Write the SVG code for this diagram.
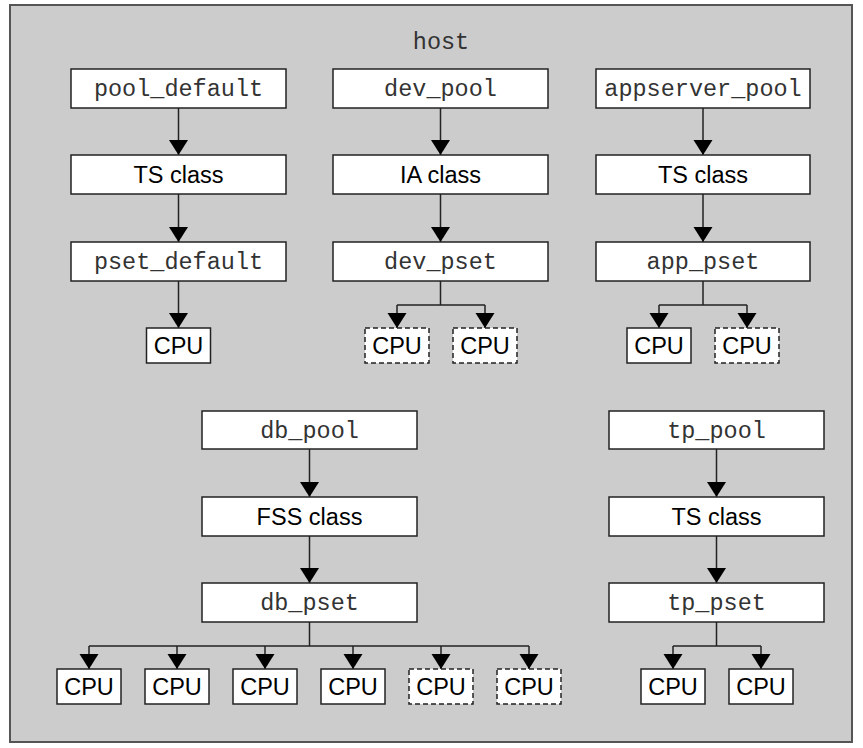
<svg xmlns="http://www.w3.org/2000/svg" width="863" height="748" viewBox="0 0 863 748">
<style>
.bg{fill:#cccccc;stroke:#555555;stroke-width:2}
.box{fill:#ffffff;stroke:#222222;stroke-width:1.5}
.dash{fill:#ffffff;stroke:#222222;stroke-width:1.5;stroke-dasharray:5 3}
.mono{font-family:"Liberation Mono","Courier New",monospace;font-size:23.5px;fill:#333333;text-anchor:middle}
.sans{font-family:"Liberation Sans",Arial,sans-serif;font-size:23.5px;fill:#000000;text-anchor:middle}
.cn{fill:none;stroke:#222222;stroke-width:1.5}
.arr{marker-end:url(#ah)}
</style>
<defs>
<marker id="ah" markerUnits="userSpaceOnUse" viewBox="0 -10 15 20" refX="15" refY="0" markerWidth="15" markerHeight="20" orient="auto">
<path d="M0,-9.5 L15,0 L0,9.5 z" fill="#000000"/>
</marker>
</defs>
<rect class="bg" x="10" y="5" width="842" height="737"/>
<text class="mono" x="441" y="49">host</text>

<g id="connectors">
<path class="cn arr" d="M178.5,108 V155"/>
<path class="cn arr" d="M178.5,194 V242"/>
<path class="cn arr" d="M178.5,281 V328"/>
<path class="cn arr" d="M440.5,108 V155"/>
<path class="cn arr" d="M440.5,194 V242"/>
<path class="cn" d="M440.5,281 V305 M397,305 H485"/>
<path class="cn arr" d="M397,305 V328"/>
<path class="cn arr" d="M485,305 V328"/>
<path class="cn arr" d="M703,108 V155"/>
<path class="cn arr" d="M703,194 V242"/>
<path class="cn" d="M703,281 V305 M659,305 H747"/>
<path class="cn arr" d="M659,305 V328"/>
<path class="cn arr" d="M747,305 V328"/>
<path class="cn arr" d="M309.5,449 V497"/>
<path class="cn arr" d="M309.5,536 V583"/>
<path class="cn" d="M309.5,622 V646 M89,646 H529"/>
<path class="cn arr" d="M89,646 V669"/>
<path class="cn arr" d="M177,646 V669"/>
<path class="cn arr" d="M265,646 V669"/>
<path class="cn arr" d="M353,646 V669"/>
<path class="cn arr" d="M441,646 V669"/>
<path class="cn arr" d="M529,646 V669"/>
<path class="cn arr" d="M716.5,449 V497"/>
<path class="cn arr" d="M716.5,536 V583"/>
<path class="cn" d="M716.5,622 V646 M673,646 H761"/>
<path class="cn arr" d="M673,646 V669"/>
<path class="cn arr" d="M761,646 V669"/>
</g>

<g id="pool_default"><rect class="box" x="71" y="69" width="215" height="39"/><text class="mono" x="178.5" y="96">pool_default</text></g>
<g id="ts_class_1"><rect class="box" x="71" y="155" width="215" height="39"/><text class="sans" x="178.5" y="183">TS class</text></g>
<g id="pset_default"><rect class="box" x="71" y="242" width="215" height="39"/><text class="mono" x="178.5" y="269">pset_default</text></g>
<g id="cpu_1"><rect class="box" x="146.5" y="328" width="64" height="35"/><text class="sans" x="178.5" y="354">CPU</text></g>

<g id="dev_pool"><rect class="box" x="333" y="69" width="215" height="39"/><text class="mono" x="440.5" y="96">dev_pool</text></g>
<g id="ia_class"><rect class="box" x="333" y="155" width="215" height="39"/><text class="sans" x="440.5" y="183">IA class</text></g>
<g id="dev_pset"><rect class="box" x="333" y="242" width="215" height="39"/><text class="mono" x="440.5" y="269">dev_pset</text></g>
<g id="cpu_dev_1"><rect class="dash" x="365" y="328" width="64" height="35"/><text class="sans" x="397" y="354">CPU</text></g>
<g id="cpu_dev_2"><rect class="dash" x="453" y="328" width="64" height="35"/><text class="sans" x="485" y="354">CPU</text></g>

<g id="appserver_pool"><rect class="box" x="596" y="69" width="214" height="39"/><text class="mono" x="703" y="96">appserver_pool</text></g>
<g id="ts_class_2"><rect class="box" x="596" y="155" width="214" height="39"/><text class="sans" x="703" y="183">TS class</text></g>
<g id="app_pset"><rect class="box" x="596" y="242" width="214" height="39"/><text class="mono" x="703" y="269">app_pset</text></g>
<g id="cpu_app_1"><rect class="box" x="627" y="328" width="64" height="35"/><text class="sans" x="659" y="354">CPU</text></g>
<g id="cpu_app_2"><rect class="dash" x="715" y="328" width="64" height="35"/><text class="sans" x="747" y="354">CPU</text></g>

<g id="db_pool"><rect class="box" x="202" y="411" width="215" height="38"/><text class="mono" x="309.5" y="438">db_pool</text></g>
<g id="fss_class"><rect class="box" x="202" y="497" width="215" height="39"/><text class="sans" x="309.5" y="525">FSS class</text></g>
<g id="db_pset"><rect class="box" x="202" y="583" width="215" height="39"/><text class="mono" x="309.5" y="610">db_pset</text></g>
<g id="cpu_db_1"><rect class="box" x="57" y="669" width="64" height="35"/><text class="sans" x="89" y="695">CPU</text></g>
<g id="cpu_db_2"><rect class="box" x="145" y="669" width="64" height="35"/><text class="sans" x="177" y="695">CPU</text></g>
<g id="cpu_db_3"><rect class="box" x="233" y="669" width="64" height="35"/><text class="sans" x="265" y="695">CPU</text></g>
<g id="cpu_db_4"><rect class="box" x="321" y="669" width="64" height="35"/><text class="sans" x="353" y="695">CPU</text></g>
<g id="cpu_db_5"><rect class="dash" x="409" y="669" width="64" height="35"/><text class="sans" x="441" y="695">CPU</text></g>
<g id="cpu_db_6"><rect class="dash" x="497" y="669" width="64" height="35"/><text class="sans" x="529" y="695">CPU</text></g>

<g id="tp_pool"><rect class="box" x="609" y="411" width="215" height="38"/><text class="mono" x="716.5" y="438">tp_pool</text></g>
<g id="ts_class_3"><rect class="box" x="609" y="497" width="215" height="39"/><text class="sans" x="716.5" y="525">TS class</text></g>
<g id="tp_pset"><rect class="box" x="609" y="583" width="215" height="39"/><text class="mono" x="716.5" y="610">tp_pset</text></g>
<g id="cpu_tp_1"><rect class="box" x="641" y="669" width="64" height="35"/><text class="sans" x="673" y="695">CPU</text></g>
<g id="cpu_tp_2"><rect class="box" x="729" y="669" width="64" height="35"/><text class="sans" x="761" y="695">CPU</text></g>
</svg>
